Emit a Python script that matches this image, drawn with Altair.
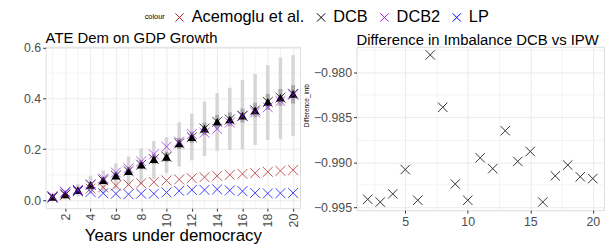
import altair as alt
import pandas as pd

years = list(range(1, 21))
acemoglu = [0.010, 0.020, 0.035, 0.045, 0.050, 0.057, 0.061, 0.066, 0.071, 0.077,
            0.081, 0.086, 0.090, 0.095, 0.099, 0.103, 0.106, 0.111, 0.115, 0.118]
dcb = [0.012, 0.022, 0.039, 0.060, 0.078, 0.096, 0.114, 0.139, 0.161, 0.170,
       0.223, 0.247, 0.281, 0.308, 0.317, 0.332, 0.353, 0.386, 0.403, 0.418]
dcb2 = [0.015, 0.032, 0.040, 0.062, 0.085, 0.108, 0.125, 0.152, 0.180, 0.210,
        0.230, 0.260, 0.265, 0.280, 0.305, 0.330, 0.345, 0.365, 0.390, 0.415]
lp = [0.012, 0.030, 0.035, 0.032, 0.027, 0.025, 0.023, 0.025, 0.025, 0.030,
      0.036, 0.040, 0.040, 0.042, 0.038, 0.035, 0.028, 0.026, 0.027, 0.028]
ci_lo = [0.000, 0.002, 0.015, 0.026, 0.029, 0.042, 0.055, 0.061, 0.083, 0.106,
         0.132, 0.156, 0.174, 0.194, 0.197, 0.200, 0.217, 0.236, 0.239, 0.252]
ci_hi = [0.025, 0.040, 0.064, 0.096, 0.116, 0.145, 0.171, 0.204, 0.232, 0.247,
         0.306, 0.340, 0.388, 0.421, 0.442, 0.473, 0.496, 0.531, 0.561, 0.571]
in_lo = [0.008, 0.015, 0.030, 0.050, 0.066, 0.083, 0.100, 0.122, 0.142, 0.150,
         0.200, 0.225, 0.255, 0.282, 0.290, 0.305, 0.325, 0.355, 0.370, 0.380]
in_hi = [0.016, 0.030, 0.048, 0.070, 0.090, 0.110, 0.130, 0.157, 0.180, 0.190,
         0.245, 0.270, 0.305, 0.335, 0.345, 0.360, 0.383, 0.418, 0.437, 0.452]

imb_years = list(range(2, 21))
imb = [-0.9941, -0.9944, -0.9935, -0.9908, -0.9942, -0.9781, -0.9839, -0.9924, -0.9942,
       -0.9895, -0.9907, -0.9865, -0.9899, -0.9888, -0.9944, -0.9915, -0.9903, -0.9916, -0.9918]

x_major_left = [2, 4, 6, 8, 10, 12, 14, 16, 18, 20]
x_minor_left = [1, 3, 5, 7, 9, 11, 13, 15, 17, 19]

series_names = ["Acemoglu et al.", "DCB", "DCB2", "LP"]
series_colors = ["#B22222", "#000000", "#A020F0", "#0000FF"]

XSHAPE = "M-1,-1L1,1M-1,1L1,-1"
FONT = "Liberation Sans"

est = pd.DataFrame({"year": years, "dcb": dcb, "lo": ci_lo, "hi": ci_hi,
                    "ilo": in_lo, "ihi": in_hi})
draw_order = [("Acemoglu et al.", acemoglu), ("LP", lp), ("DCB", dcb), ("DCB2", dcb2)]
long = pd.DataFrame([{"year": y, "value": v, "series": n}
                     for n, vals in draw_order for y, v in zip(years, vals)])
imb_df = pd.DataFrame({"year": imb_years, "imb": imb})
minor_df = pd.DataFrame({"year": x_minor_left})

grid_common = dict(gridColor="#EBEBEB", tickColor="#333333", tickSize=3, tickWidth=1,
                   labelColor="#4D4D4D", labelFontSize=12.5, labelPadding=2,
                   domain=False, labelFont=FONT)

xsc = alt.Scale(domain=[0.45, 20.55], nice=False, zero=False)
xaxis_l = alt.Axis(values=x_major_left, title="Years under democracy",
                   titleFontSize=17, titleFontWeight="normal", titleColor="#000000",
                   titleFont=FONT, titlePadding=1, labelAngle=-90,
                   gridWidth=1, **grid_common)
xl = alt.X("year:Q", scale=xsc, axis=xaxis_l)
ysc = alt.Scale(domain=[-0.032, 0.603], nice=False, zero=False)
ymaj = "round(datum.value*10) % 2 == 0"
yaxis_l = alt.Axis(values=[0, 0.1, 0.2, 0.3, 0.4, 0.5, 0.6], title=None, labelOverlap=False,
                   labelExpr=f"{ymaj} ? format(datum.value, '.1f') : ''",
                   tickOpacity={"condition": {"test": ymaj, "value": 1}, "value": 0},
                   gridWidth={"condition": {"test": ymaj, "value": 1}, "value": 0.6},
                   **grid_common)

minor_grid = alt.Chart(minor_df).mark_rule(color="#EBEBEB", strokeWidth=0.6).encode(x=xl)

base = alt.Chart(est)
outer = base.mark_rule(color="#D6D6D6", strokeWidth=3.5).encode(
    x=xl, y=alt.Y("lo:Q", scale=ysc, axis=yaxis_l), y2="hi:Q")
inner = base.mark_rule(color="#A8A8A8", strokeWidth=4).encode(
    x=xl, y=alt.Y("ilo:Q", scale=ysc, axis=yaxis_l), y2="ihi:Q")
tri = base.mark_point(shape="triangle-up", filled=True, color="#000000", size=80, opacity=1).encode(
    x=xl, y=alt.Y("dcb:Q", scale=ysc, axis=yaxis_l))
crosses = alt.Chart(long).mark_point(shape=XSHAPE, filled=False, strokeWidth=1, size=100, opacity=0.75).encode(
    x=xl, y=alt.Y("value:Q", scale=ysc, axis=yaxis_l),
    color=alt.Color("series:N",
                    scale=alt.Scale(domain=series_names, range=series_colors),
                    legend=alt.Legend(title="colour", orient="none", legendX=100, legendY=-38,
                                      direction="horizontal", columns=4, padding=0,
                                      titleOrient="left", titleFontSize=7.5, titleFontWeight="normal",
                                      titleColor="#000000", titleFont=FONT, titleBaseline="middle",
                                      titlePadding=6,
                                      labelFontSize=16.5, labelColor="#000000", labelFont=FONT,
                                      symbolType=XSHAPE, symbolSize=70, symbolStrokeWidth=1,
                                      symbolOpacity=1, labelOffset=4, columnPadding=8)))

title_kw = dict(anchor="start", fontSize=15, fontWeight="normal", color="#000000", font=FONT,
                baseline="alphabetic", offset=7, frame="group", dy=23)

left = alt.layer(minor_grid, outer, inner, tri, crosses).properties(
    width=257, height=163,
    title=alt.TitleParams("ATE Dem on GDP Growth", **title_kw))

rmaj = "abs(round(datum.value*1000) - datum.value*1000) < 1e-6"
right = alt.Chart(imb_df).mark_point(shape=XSHAPE, filled=False, strokeWidth=1, size=90,
                                     color="#333333", opacity=1).encode(
    x=alt.X("year:Q", scale=alt.Scale(domain=[1.1, 20.9], nice=False, zero=False),
            axis=alt.Axis(values=[2.5, 5, 7.5, 10, 12.5, 15, 17.5, 20], title=None, labelOverlap=False,
                          labelExpr="datum.value % 5 == 0 ? datum.label : ''",
                          tickOpacity={"condition": {"test": "datum.value % 5 == 0", "value": 1}, "value": 0},
                          gridWidth={"condition": {"test": "datum.value % 5 == 0", "value": 1}, "value": 0.6},
                          **grid_common)),
    y=alt.Y("imb:Q", scale=alt.Scale(domain=[-0.9953, -0.9772], nice=False, zero=False),
            axis=alt.Axis(values=[-0.995, -0.9925, -0.99, -0.9875, -0.985, -0.9825, -0.98, -0.9775],
                          title="Difference_imb", titleFontSize=6.5, titleFontWeight="normal",
                          titleColor="#000000", titleFont=FONT, titleAngle=270, labelOverlap=False,
                          titleAlign="center", titleBaseline="middle", titleX=-50, titleY=59,
                          labelExpr=f"{rmaj} ? '\u2212' + format(abs(datum.value), '.3f') : ''",
                          tickOpacity={"condition": {"test": rmaj, "value": 1}, "value": 0},
                          gridWidth={"condition": {"test": rmaj, "value": 1}, "value": 0.6},
                          **grid_common))
).properties(
    width=250, height=165,
    title=alt.TitleParams("Difference in Imbalance DCB vs IPW", **title_kw))

chart = alt.hconcat(left, right, spacing=57, bounds="flush").properties(
    padding={"left": 15, "top": 0, "right": 0, "bottom": 0}
).configure_view(stroke="#333333", strokeWidth=1).configure(font=FONT, background="#FFFFFF")

chart.save("out.html", embed_options={"renderer": "svg", "actions": False})
